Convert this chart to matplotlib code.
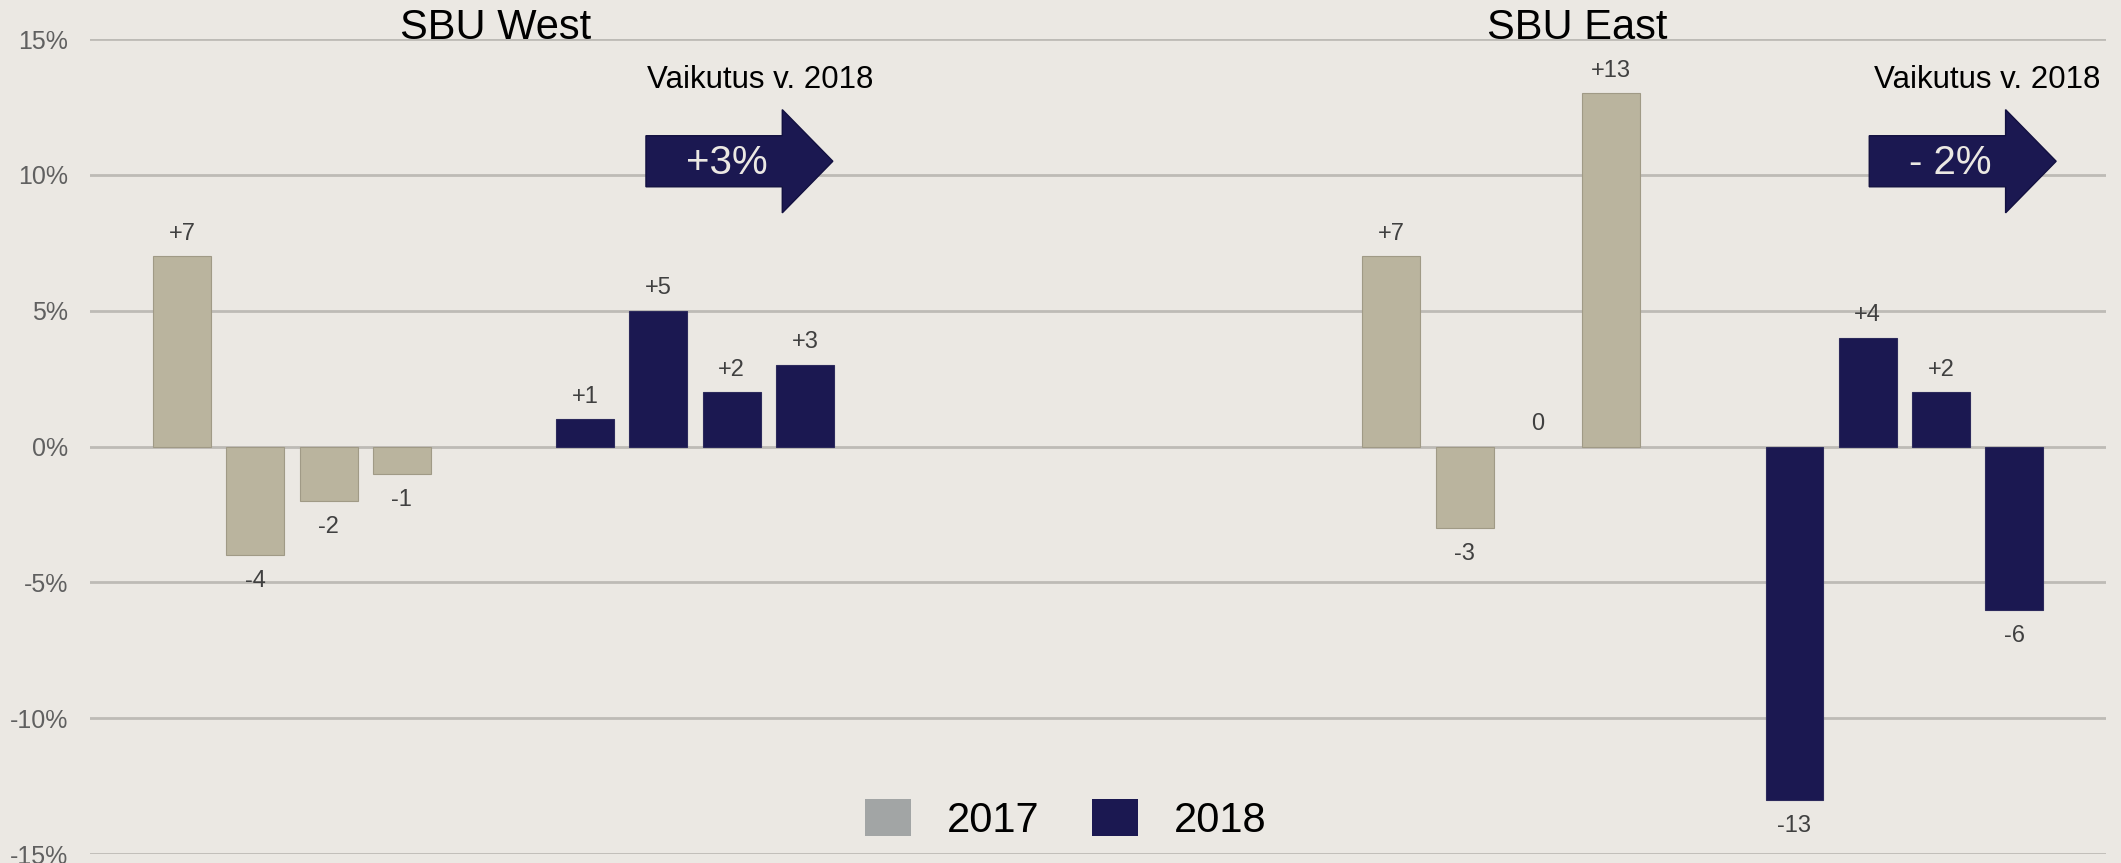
import numpy as np
import matplotlib
matplotlib.use("Agg")
import matplotlib.pyplot as plt
from matplotlib.patches import Patch, FancyArrow

plt.rcParams['font.family'] = ['Liberation Sans', 'DejaVu Sans']

# data (percent change)
west_2017 = [7, -4, -2, -1]
west_2018 = [1, 5, 2, 3]
east_2017 = [7, -3, 0, 13]
east_2018 = [-13, 4, 2, -6]
group_names = ['SBU West', 'SBU East']
impact_labels = ['+3%', '- 2%']
legend_labels = ['2017', '2018']
yticks = [15, 10, 5, 0, -5, -10, -15]

bg = '#ebe8e3'
c17 = '#bab49e'
c18 = '#1b1851'

fig = plt.figure(figsize=(21.21, 8.63), dpi=100, facecolor=bg)
ax = fig.add_axes([90/2121, 1-854/863, (2106-90)/2121, (854-39)/863])
ax.set_facecolor(bg)

# slot offsets of the four bar groups
offsets = [0, 5.5, 16.5, 22]
series = [west_2017, west_2018, east_2017, east_2018]
colors = [c17, c18, c17, c18]
edges = ['#a09a86', '#2c2a5c', '#a09a86', '#2c2a5c']
w = 0.79

for off, vals, col, ec in zip(offsets, series, colors, edges):
    x = np.arange(len(vals)) + off
    bars = ax.bar(x, vals, width=w, color=col, edgecolor=ec,
                  linewidth=[0.8 if v != 0 else 0 for v in vals], zorder=3)
    for b, v in zip(bars, vals):
        txt = f"+{v}" if v > 0 else str(v)
        xc = b.get_x() + b.get_width() / 2
        if v >= 0:
            ax.annotate(txt, (xc, v), xytext=(0, 12), textcoords='offset points',
                        ha='center', va='baseline', fontsize=17, color='#404040')
        else:
            ax.annotate(txt, (xc, v), xytext=(0, -11), textcoords='offset points',
                        ha='center', va='top', fontsize=17, color='#404040')

ax.set_xlim(-1.255, 26.25)
ax.set_ylim(-15, 15)
ax.set_yticks(yticks)
ax.set_yticklabels([f"{t}%" for t in yticks], fontsize=18, color='#606060')
ax.set_xticks([])
ax.tick_params(axis='y', length=0, pad=16)
for s in ax.spines.values():
    s.set_visible(False)
ax.set_axisbelow(True)
ax.yaxis.grid(True, color='#bdbbb6', linewidth=2)

# group titles
ax.text(4.28, 15.42, group_names[0], ha='center', va='center', fontsize=30, color='black', clip_on=False)
ax.text(19.03, 15.42, group_names[1], ha='center', va='center', fontsize=30, color='black', clip_on=False)

# impact arrows
for x0, tx, lx, lab in [(6.33, 7.44, 7.89, impact_labels[0]), (23.02, 24.12, 24.63, impact_labels[1])]:
    ax.text(lx, 13.5, 'Vaikutus v. 2018', ha='center', va='center', fontsize=22.5, color='black')
    arr = FancyArrow(x0, 10.5, 2.55, 0, width=1.88, head_width=3.8, head_length=0.69,
                     length_includes_head=True, facecolor=c18, edgecolor='#121040',
                     linewidth=1, zorder=5)
    ax.add_patch(arr)
    ax.text(tx, 10.45, lab, ha='center', va='center', fontsize=29, color=bg, zorder=6)

handles = [Patch(facecolor='#a2a5a5'), Patch(facecolor=c18)]
fig.legend(handles, legend_labels, loc='center', bbox_to_anchor=(1066/2121, 1-820/863),
           ncol=2, frameon=False, fontsize=30, handlelength=1.1, handleheight=1.0,
           handletextpad=0.86, columnspacing=1.27)

fig.savefig('out.png', dpi=100, facecolor=bg)
